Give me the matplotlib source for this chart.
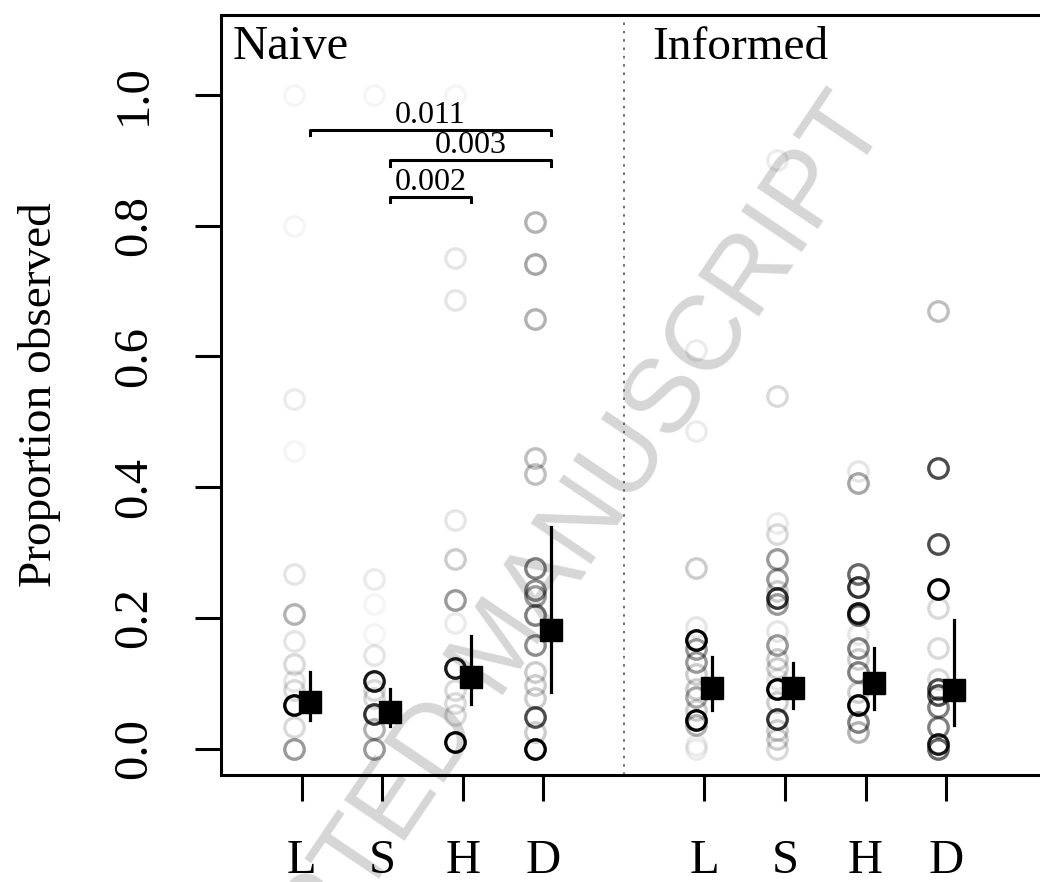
import matplotlib
matplotlib.use("Agg")
import matplotlib.pyplot as plt

plt.rcParams['font.family'] = ['Liberation Serif', 'DejaVu Serif']

categories = ['L', 'S', 'H', 'D']
panels = ['Naive', 'Informed']

# individual proportions and their weights (weight -> opacity of the circle)
naive_L = [1.0, 0.80, 0.535, 0.455, 0.267, 0.206, 0.165, 0.129, 0.103, 0.09, 0.067, 0.034, 0.0]
naive_L_w = [0.04, 0.04, 0.08, 0.04, 0.1, 0.3, 0.1, 0.15, 0.1, 0.15, 1.0, 0.15, 0.4]
naive_S = [1.0, 0.259, 0.221, 0.175, 0.144, 0.104, 0.09, 0.078, 0.054, 0.031, 0.0]
naive_S_w = [0.04, 0.08, 0.04, 0.04, 0.1, 0.9, 0.15, 0.15, 0.8, 0.3, 0.4]
naive_H = [1.0, 0.75, 0.687, 0.35, 0.29, 0.228, 0.192, 0.123, 0.09, 0.07, 0.052, 0.01]
naive_H_w = [0.04, 0.1, 0.1, 0.1, 0.2, 0.4, 0.08, 0.9, 0.15, 0.15, 0.15, 1.0]
naive_D = [0.806, 0.741, 0.658, 0.445, 0.42, 0.276, 0.243, 0.233, 0.205, 0.159,
           0.118, 0.098, 0.077, 0.049, 0.026, 0.0]
naive_D_w = [0.3, 0.35, 0.3, 0.25, 0.25, 0.5, 0.45, 0.4, 0.5, 0.45,
             0.2, 0.2, 0.2, 0.7, 0.2, 1.0]

inf_L = [0.61, 0.486, 0.277, 0.187, 0.167, 0.152, 0.133, 0.115, 0.092, 0.08,
         0.06, 0.044, 0.036, 0.006, 0.0]
inf_L_w = [0.08, 0.08, 0.2, 0.1, 1.0, 0.4, 0.4, 0.2, 0.2, 0.35,
           0.2, 1.0, 0.3, 0.08, 0.08]
inf_S = [0.90, 0.54, 0.346, 0.328, 0.29, 0.259, 0.241, 0.23, 0.221, 0.18,
         0.159, 0.138, 0.123, 0.107, 0.092, 0.072, 0.046, 0.029, 0.015, 0.0]
inf_S_w = [0.08, 0.15, 0.08, 0.15, 0.4, 0.4, 0.2, 0.8, 0.4, 0.1,
           0.4, 0.2, 0.2, 0.1, 1.0, 0.2, 0.8, 0.2, 0.2, 0.15]
inf_H = [0.425, 0.407, 0.267, 0.248, 0.207, 0.205, 0.175, 0.154, 0.138, 0.118,
         0.087, 0.067, 0.041, 0.026]
inf_H_w = [0.1, 0.35, 0.6, 0.8, 0.9, 0.6, 0.1, 0.5, 0.2, 0.5,
           0.2, 1.0, 0.5, 0.3]
inf_D = [0.67, 0.43, 0.313, 0.244, 0.215, 0.154, 0.107, 0.092, 0.083, 0.064,
         0.034, 0.008, 0.0]
inf_D_w = [0.25, 0.7, 0.7, 1.0, 0.15, 0.15, 0.15, 0.7, 0.7, 0.5,
           0.5, 0.9, 0.6]

# model estimates with intervals
naive_mean = [0.071, 0.057, 0.110, 0.182]
naive_lo = [0.044, 0.035, 0.069, 0.087]
naive_hi = [0.118, 0.092, 0.173, 0.340]
inf_mean = [0.0925, 0.0925, 0.101, 0.090]
inf_lo = [0.060, 0.063, 0.061, 0.037]
inf_hi = [0.141, 0.131, 0.154, 0.197]

# pairwise comparisons (Naive): (from, to, p-value)
comparisons = [('L', 'D', '0.011'), ('S', 'D', '0.003'), ('S', 'H', '0.002')]
comp_levels = [0.946, 0.900, 0.844]

points = {
    'Naive': [(naive_L, naive_L_w), (naive_S, naive_S_w), (naive_H, naive_H_w), (naive_D, naive_D_w)],
    'Informed': [(inf_L, inf_L_w), (inf_S, inf_S_w), (inf_H, inf_H_w), (inf_D, inf_D_w)],
}
estimates = {
    'Naive': (naive_mean, naive_lo, naive_hi),
    'Informed': (inf_mean, inf_lo, inf_hi),
}
starts = {'Naive': 1, 'Informed': 6}

fig = plt.figure(figsize=(10.4, 8.82), dpi=100)
ax = fig.add_axes([221 / 1040, 107 / 882, 846 / 1040, 760.5 / 882])
ax.set_xlim(0, 10.5)
ax.set_ylim(-0.040, 1.123)
ax.set_zorder(2)
ax.set_facecolor('none')

# watermark, behind the axes
fig.text(502 / 1040, 1 - 648 / 882, 'ACCEPTED MANUSCRIPT', family='Liberation Sans',
         fontsize=76, color='#d6d6d6', rotation=56, ha='center', va='center',
         rotation_mode='anchor', zorder=0)

for panel in panels:
    x0 = starts[panel]
    for i, (vals, wts) in enumerate(points[panel]):
        for v, w in zip(vals, wts):
            ax.plot(x0 + i - 0.1, v, 'o', ms=14, mfc='none', mec='black',
                    mew=2.4, alpha=w, zorder=2)
    m, lo, hi = estimates[panel]
    for i in range(len(categories)):
        xx = x0 + i + 0.1
        ax.plot([xx, xx], [lo[i], hi[i]], color='black', lw=2.3, zorder=3)
        ax.plot(xx, m[i], 's', ms=15.5, color='black', zorder=4)

ax.axvline(5, color='#555555', lw=1.2, ls=(0, (1.5, 3.5)), zorder=1)

ax.text(0.14, 1.055, 'Naive', fontsize=35, va='baseline', ha='left')
ax.text(5.35, 1.055, 'Informed', fontsize=34, va='baseline', ha='left')

# significance brackets
for (a, b, p), lev in zip(comparisons, comp_levels):
    xa = 1 + categories.index(a) + 0.1
    xb = 1 + categories.index(b) + 0.1
    ax.plot([xa, xa, xb, xb], [lev - 0.008, lev, lev, lev - 0.008],
            color='black', lw=2.2, zorder=5)
    ax.text((xa + xb) / 2, lev + 0.011, p, fontsize=23, ha='center',
            va='baseline', zorder=5)

ax.set_xticks([1, 2, 3, 4, 6, 7, 8, 9])
ax.set_xticklabels(categories + categories)
ax.set_yticks([0.0, 0.2, 0.4, 0.6, 0.8, 1.0])
ax.set_yticklabels(['0.0', '0.2', '0.4', '0.6', '0.8', '1.0'], rotation=90,
                   va='center')
ax.tick_params(axis='both', length=19, width=2.2, labelsize=35, direction='out')
ax.tick_params(axis='x', pad=27)
ax.tick_params(axis='y', pad=28)
for s in ax.spines.values():
    s.set_linewidth(2.2)

fig.text(40 / 1040, 1 - 395 / 882, 'Proportion observed', fontsize=34,
         rotation=90, ha='center', va='center')

fig.savefig('out.png', dpi=100)
